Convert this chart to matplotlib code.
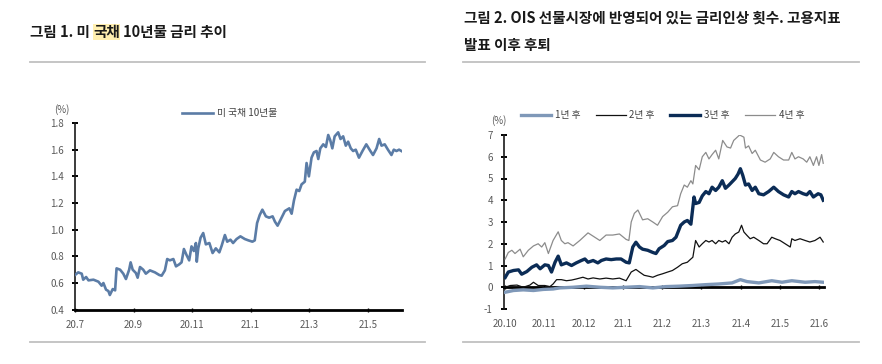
import numpy as np
import matplotlib
matplotlib.use("Agg")
import matplotlib.pyplot as plt
from matplotlib.lines import Line2D
from matplotlib.patches import Rectangle

plt.rcParams['font.family'] = ['Noto Sans CJK KR', 'DejaVu Sans']
plt.rcParams['axes.unicode_minus'] = False

# ---- 그림 1: 미 국채 10년물 (x = months since 2020-07) ----
us10_x = [0.00, 0.11, 0.23, 0.28, 0.38, 0.46, 0.63, 0.80, 0.91, 0.97, 1.06, 1.14, 1.19,
          1.29, 1.37, 1.42, 1.54, 1.65, 1.74, 1.85, 1.90, 1.97, 2.08, 2.14, 2.22, 2.33,
          2.42, 2.56, 2.73, 2.88, 2.96, 3.07, 3.15, 3.24, 3.36, 3.45, 3.56, 3.64, 3.72,
          3.81, 3.90, 3.98, 4.06, 4.13, 4.16, 4.21, 4.29, 4.38, 4.47, 4.59, 4.70, 4.81,
          4.93, 5.01, 5.12, 5.20, 5.31, 5.40, 5.52, 5.65, 5.80, 5.92, 6.06, 6.14, 6.22,
          6.31, 6.40, 6.52, 6.63, 6.75, 6.83, 6.92, 7.00, 7.17, 7.32, 7.40, 7.48, 7.57,
          7.66, 7.74, 7.85, 7.91, 7.99, 8.08, 8.16, 8.25, 8.31, 8.38, 8.48, 8.57, 8.65,
          8.72, 8.79, 8.87, 8.99, 9.07, 9.16, 9.25, 9.33, 9.42, 9.50, 9.59, 9.70, 9.82,
          9.95, 10.09, 10.18, 10.30, 10.39, 10.47, 10.58, 10.69, 10.81, 10.89, 10.98,
          11.07, 11.15]
us10_y = [0.66, 0.68, 0.67, 0.625, 0.645, 0.62, 0.625, 0.61, 0.58, 0.60, 0.55, 0.54, 0.51,
          0.555, 0.545, 0.71, 0.70, 0.67, 0.63, 0.70, 0.755, 0.70, 0.675, 0.64, 0.72, 0.70,
          0.67, 0.695, 0.68, 0.66, 0.655, 0.695, 0.78, 0.77, 0.78, 0.725, 0.74, 0.755, 0.855,
          0.81, 0.77, 0.875, 0.84, 0.90, 0.76, 0.86, 0.94, 0.975, 0.89, 0.90, 0.825, 0.86,
          0.83, 0.88, 0.96, 0.91, 0.925, 0.90, 0.93, 0.95, 0.93, 0.92, 0.91, 0.92, 1.05,
          1.11, 1.15, 1.10, 1.09, 1.10, 1.06, 1.03, 1.065, 1.14, 1.16, 1.12, 1.22, 1.30,
          1.29, 1.34, 1.36, 1.50, 1.40, 1.54, 1.58, 1.59, 1.53, 1.61, 1.64, 1.62, 1.71,
          1.67, 1.61, 1.70, 1.73, 1.68, 1.70, 1.63, 1.66, 1.61, 1.59, 1.60, 1.54, 1.59,
          1.64, 1.59, 1.56, 1.61, 1.68, 1.63, 1.64, 1.60, 1.56, 1.60, 1.59,
          1.60, 1.59]
left_ticks = [0, 2, 4, 6, 8, 10]
left_labels = ['20.7', '20.9', '20.11', '21.1', '21.3', '21.5']
left_yticks = [0.4, 0.6, 0.8, 1.0, 1.2, 1.4, 1.6, 1.8]

# ---- 그림 2: OIS 금리인상 횟수 (x = months since 2020-10) ----
y1_x = [0.00, 0.21, 0.46, 0.72, 0.97, 1.22, 1.39, 1.73, 2.07, 2.41, 2.74, 3.08, 3.42, 3.76,
        4.09, 4.43, 4.77, 5.11, 5.44, 5.78, 5.99, 6.16, 6.46, 6.79, 7.05, 7.30, 7.64, 7.89, 8.10]
y1_v = [-0.23, -0.15, -0.12, -0.15, -0.10, -0.08, -0.03, 0.00, 0.05, 0.00, -0.03, 0.00, 0.03,
        -0.03, 0.03, 0.05, 0.08, 0.12, 0.15, 0.20, 0.35, 0.26, 0.20, 0.30, 0.23, 0.30, 0.23,
        0.26, 0.23]

y2_x = [0.00, 0.13, 0.30, 0.46, 0.63, 0.72, 0.84, 1.01, 1.14, 1.22, 1.31, 1.43, 1.56, 1.69,
        1.81, 1.98, 2.11, 2.24, 2.41, 2.57, 2.74, 2.91, 3.08, 3.21, 3.33, 3.42, 3.54, 3.67,
        3.76, 3.88, 4.01, 4.14, 4.26, 4.39, 4.51, 4.64, 4.73, 4.78, 4.85, 4.94, 5.02, 5.11,
        5.19, 5.27, 5.36, 5.44, 5.53, 5.61, 5.70, 5.78, 5.86, 5.95, 6.02, 6.08, 6.16, 6.24,
        6.33, 6.46, 6.58, 6.67, 6.79, 6.88, 7.00, 7.13, 7.26, 7.30, 7.38, 7.51, 7.64, 7.76,
        7.89, 8.02, 8.10]
y2_v = [0.00, 0.08, 0.10, 0.00, 0.10, 0.23, 0.08, 0.08, 0.03, 0.15, 0.35, 0.35, 0.30, 0.33,
        0.38, 0.46, 0.38, 0.43, 0.38, 0.42, 0.38, 0.42, 0.30, 0.70, 0.82, 0.70, 0.55, 0.50,
        0.46, 0.55, 0.62, 0.70, 0.77, 0.92, 1.08, 1.15, 1.30, 1.38, 2.15, 1.85, 2.00, 2.15,
        2.08, 2.15, 2.00, 2.15, 2.08, 2.15, 2.00, 2.30, 2.45, 2.54, 2.85, 2.54, 2.38, 2.23,
        2.30, 2.15, 2.00, 2.00, 2.30, 2.23, 2.15, 2.00, 1.85, 2.23, 2.15, 2.23, 2.15, 2.08,
        2.15, 2.30, 2.08]

y3_x = [0.00, 0.08, 0.21, 0.34, 0.42, 0.55, 0.68, 0.80, 0.89, 1.01, 1.10, 1.18, 1.27, 1.35,
        1.43, 1.56, 1.69, 1.81, 1.94, 2.03, 2.11, 2.24, 2.36, 2.45, 2.57, 2.70, 2.83, 2.95,
        3.08, 3.16, 3.25, 3.33, 3.42, 3.50, 3.63, 3.76, 3.84, 3.92, 4.05, 4.14, 4.26, 4.35,
        4.47, 4.56, 4.64, 4.73, 4.81, 4.85, 4.94, 5.02, 5.11, 5.19, 5.27, 5.36, 5.44, 5.53,
        5.61, 5.70, 5.78, 5.86, 5.93, 5.99, 6.05, 6.12, 6.20, 6.29, 6.37, 6.46, 6.58, 6.71,
        6.84, 6.96, 7.09, 7.22, 7.30, 7.38, 7.47, 7.59, 7.68, 7.76, 7.85, 7.97, 8.04, 8.10]
y3_v = [0.45, 0.70, 0.77, 0.80, 0.60, 0.72, 0.92, 1.03, 0.85, 1.03, 1.00, 0.70, 1.15, 1.43,
        1.03, 1.12, 1.00, 1.12, 1.23, 1.30, 1.15, 1.23, 1.12, 1.23, 1.30, 1.27, 1.30, 1.30,
        1.15, 1.12, 1.85, 2.07, 1.85, 1.75, 1.70, 1.60, 1.55, 1.77, 1.92, 2.10, 2.15, 2.30,
        2.85, 3.00, 3.07, 2.90, 4.15, 3.85, 3.90, 4.20, 4.40, 4.30, 4.60, 4.45, 4.60, 4.90,
        4.55, 4.70, 4.85, 5.00, 5.20, 5.45, 5.15, 4.70, 4.75, 4.45, 4.60, 4.30, 4.25, 4.40,
        4.60, 4.40, 4.25, 4.15, 4.40, 4.30, 4.40, 4.30, 4.25, 4.40, 4.15, 4.30, 4.25, 4.00]

y4_x = [0.00, 0.08, 0.17, 0.25, 0.38, 0.46, 0.59, 0.72, 0.84, 0.93, 1.01, 1.10, 1.22, 1.35,
        1.43, 1.52, 1.60, 1.73, 1.90, 2.11, 2.41, 2.57, 2.74, 2.91, 3.08, 3.15, 3.21, 3.29,
        3.38, 3.50, 3.63, 3.76, 3.88, 4.01, 4.14, 4.26, 4.39, 4.47, 4.56, 4.64, 4.73, 4.78,
        4.85, 4.94, 5.02, 5.11, 5.19, 5.27, 5.36, 5.44, 5.54, 5.65, 5.74, 5.82, 5.91, 5.97,
        6.08, 6.12, 6.20, 6.29, 6.37, 6.50, 6.62, 6.75, 6.84, 6.96, 7.09, 7.22, 7.30, 7.38,
        7.47, 7.59, 7.68, 7.76, 7.85, 7.93, 7.99, 8.06, 8.10]
y4_v = [1.30, 1.60, 1.70, 1.55, 1.75, 1.40, 1.70, 1.90, 2.00, 1.85, 2.05, 1.55, 2.15, 2.55,
        2.15, 2.00, 2.05, 1.90, 2.15, 2.50, 2.15, 2.40, 2.40, 2.45, 2.20, 2.15, 3.00, 3.40,
        3.55, 3.10, 3.15, 3.00, 2.85, 3.25, 3.45, 3.70, 3.75, 4.30, 4.70, 4.60, 4.90, 4.75,
        5.60, 5.40, 6.00, 6.20, 5.90, 6.10, 6.30, 5.90, 6.75, 6.45, 6.40, 6.75, 6.90, 7.00,
        6.90, 6.40, 6.50, 6.15, 6.30, 5.85, 5.75, 5.90, 6.20, 6.00, 5.85, 5.85, 6.20, 5.90,
        6.00, 5.90, 5.75, 6.00, 5.60, 6.00, 5.60, 6.10, 5.70]

right_ticks = [0, 1, 2, 3, 4, 5, 6, 7, 8]
right_labels = ['20.10', '20.11', '20.12', '21.1', '21.2', '21.3', '21.4', '21.5', '21.6']
right_yticks = [-1, 0, 1, 2, 3, 4, 5, 6, 7]

W, H = 882, 364
fig = plt.figure(figsize=(W / 100, H / 100), dpi=100)
tick_color = '#595959'


def style_axis(ax):
    ax.spines['top'].set_visible(False)
    ax.spines['right'].set_visible(False)
    ax.spines['left'].set_color('#1a1a1a')
    ax.spines['left'].set_linewidth(1.2)
    ax.spines['bottom'].set_color('#000000')
    ax.spines['bottom'].set_linewidth(2.0)
    ax.tick_params(axis='y', direction='inout', length=5, width=1.4, color='#000000',
                   labelcolor=tick_color, labelsize=7, pad=5.5)
    ax.tick_params(axis='x', direction='inout', length=3, width=1.0, color='#000000',
                   labelcolor=tick_color, labelsize=7)


# 왼쪽 차트
ax1 = fig.add_axes([75 / W, 1 - 309.7 / H, 327 / W, 186.7 / H])
ax1.plot(us10_x, us10_y, color='#5B7CA6', lw=1.9, label='미 국채 10년물', zorder=3,
         solid_joinstyle='round')
ax1.set_xlim(0, 11.17)
ax1.set_ylim(0.4, 1.8)
ax1.set_yticks(left_yticks)
ax1.set_yticklabels([f'{v:.1f}' for v in left_yticks])
ax1.set_xticks(left_ticks)
ax1.set_xticklabels(left_labels)
style_axis(ax1)
ax1.tick_params(axis='x', pad=6)
fig.text(62 / W, 1 - 110 / H, '(%)', fontsize=7, color=tick_color, ha='center', va='center')
ax1.legend(loc='center left', bbox_to_anchor=(182 / W, 1 - 113 / H),
           bbox_transform=fig.transFigure, frameon=False, fontsize=7,
           handlelength=3.2, handletextpad=0.4, borderpad=0, borderaxespad=0,
           labelcolor='#404040')

# 오른쪽 차트
ax2 = fig.add_axes([504 / W, 1 - 309 / H, 320 / W, 174 / H])
ax2.plot(y1_x, y1_v, color='#7F98B8', lw=2.4, label='1년 후', zorder=3)
ax2.plot(y2_x, y2_v, color='#111111', lw=0.9, label='2년 후', zorder=3)
ax2.plot(y3_x, y3_v, color='#0B2C56', lw=2.4, label='3년 후', zorder=3)
ax2.plot(y4_x, y4_v, color='#8C8C8C', lw=0.9, label='4년 후', zorder=3)
ax2.set_xlim(-0.03, 8.12)
ax2.set_ylim(-1, 7)
ax2.set_yticks(right_yticks)
ax2.set_yticklabels([str(v) for v in right_yticks])
ax2.set_xticks(right_ticks)
ax2.set_xticklabels(right_labels)
style_axis(ax2)
ax2.spines['bottom'].set_position(('data', 0))
ax2.spines['bottom'].set_zorder(2.5)
ax2.tick_params(axis='x', pad=21.5)
fig.text(499 / W, 1 - 121 / H, '(%)', fontsize=7, color=tick_color, ha='center', va='center')
ax2.legend(loc='center left', bbox_to_anchor=(521 / W, 1 - 115 / H),
           bbox_transform=fig.transFigure, frameon=False, fontsize=7, ncol=4,
           handlelength=3.1, handletextpad=0.35, columnspacing=1.6,
           borderpad=0, borderaxespad=0, labelcolor='#404040')

# 제목
title_kw = dict(fontsize=10.5, fontweight='bold', color='#1a1a1a', va='center', ha='left')
fig.canvas.draw()
renderer = fig.canvas.get_renderer()
t_a = fig.text(30 / W, 1 - 32 / H, '그림 1. 미', **title_kw)
bb = t_a.get_window_extent(renderer)
sp = fig.text(0, 0, '미 미', **title_kw)
w_sp = sp.get_window_extent(renderer).width
sp_m = fig.text(0, 0, '미미', **title_kw)
space_w = w_sp - sp_m.get_window_extent(renderer).width
sp.remove()
sp_m.remove()
x_b = bb.x1 + space_w
t_b = fig.text(x_b / W, 1 - 32 / H, '국채', **title_kw)
bb_b = t_b.get_window_extent(renderer)
fig.add_artist(Rectangle((bb_b.x0 / W, 1 - 40 / H), bb_b.width / W, 16 / H,
                         transform=fig.transFigure, facecolor='#FFEFB0', edgecolor='none',
                         zorder=0))
fig.text((bb_b.x1 + space_w) / W, 1 - 32 / H, '10년물 금리 추이', **title_kw)

fig.text(464 / W, 1 - 18 / H, '그림 2. OIS 선물시장에 반영되어 있는 금리인상 횟수. 고용지표',
         **title_kw)
fig.text(464 / W, 1 - 45 / H, '발표 이후 후퇴', **title_kw)

# 구분선
for x0, x1 in [(30, 425), (463, 859)]:
    for yy in (62, 342):
        fig.add_artist(Line2D([x0 / W, x1 / W], [1 - yy / H, 1 - yy / H],
                              transform=fig.transFigure, color='#C0C0C0', lw=1.3))

fig.savefig('out.png', dpi=100)
